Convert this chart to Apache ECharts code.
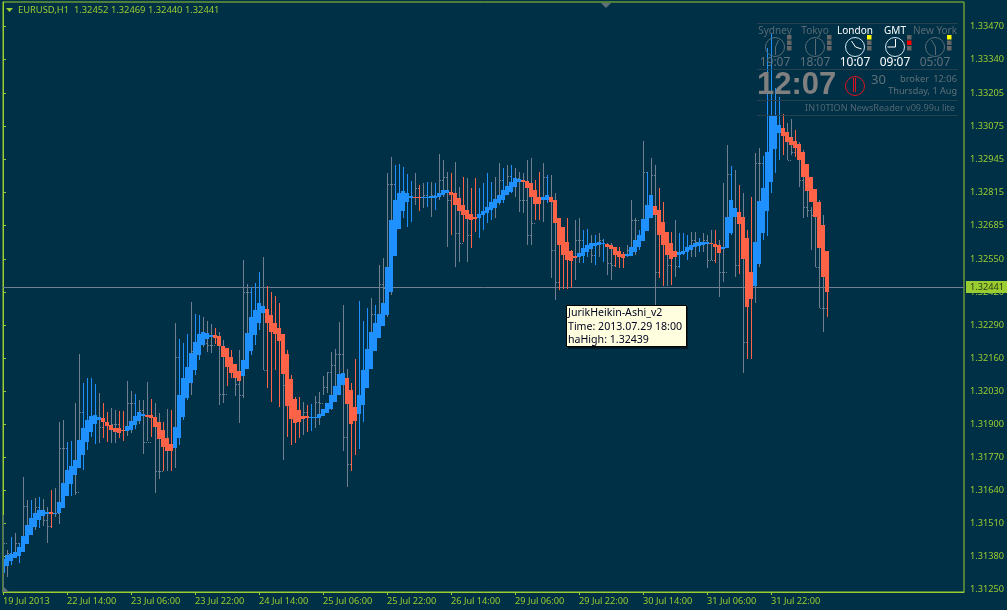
<!DOCTYPE html>
<html><head><meta charset="utf-8">
<script src="https://cdn.jsdelivr.net/npm/echarts@6/dist/echarts.min.js"></script>
<style>html,body{margin:0;padding:0;background:#003045}#c{width:1007px;height:610px}</style></head>
<body><div id="c"></div>
<script>
const bodyTop=[
1.31368,1.31384,1.31388,1.31396,1.31416,1.31459,1.31502,1.31530,1.31550,1.31562,
1.31562,1.31554,1.31554,1.31550,1.31593,1.31669,1.31720,1.31736,1.31759,1.31838,
1.31886,1.31917,1.31933,1.31937,1.31929,1.31925,1.31909,1.31897,1.31886,1.31886,
1.31878,1.31893,1.31913,1.31933,1.31949,1.31941,1.31937,1.31937,1.31929,1.31909,
1.31878,1.31846,1.31823,1.31890,1.32015,1.32083,1.32126,1.32181,1.32224,1.32256,
1.32264,1.32260,1.32252,1.32252,1.32248,1.32209,1.32201,1.32165,1.32138,1.32110,
1.32153,1.32260,1.32323,1.32351,1.32378,1.32366,1.32355,1.32331,1.32299,1.32280,
1.32256,1.32177,1.32079,1.32000,1.31957,1.31933,1.31933,1.31929,1.31929,1.31941,
1.31961,1.31984,1.32015,1.32051,1.32098,1.32102,1.32083,1.32035,1.31968,1.32015,
1.32114,1.32197,1.32264,1.32299,1.32335,1.32378,1.32520,1.32705,1.32784,1.32812,
1.32820,1.32812,1.32800,1.32797,1.32797,1.32797,1.32797,1.32800,1.32800,1.32812,
1.32824,1.32824,1.32816,1.32812,1.32793,1.32764,1.32745,1.32729,1.32717,1.32729,
1.32741,1.32756,1.32776,1.32789,1.32805,1.32824,1.32840,1.32856,1.32872,1.32868,
1.32864,1.32860,1.32852,1.32824,1.32797,1.32797,1.32805,1.32797,1.32784,1.32713,
1.32678,1.32618,1.32583,1.32563,1.32575,1.32595,1.32607,1.32614,1.32614,1.32618,
1.32614,1.32611,1.32607,1.32599,1.32583,1.32571,1.32571,1.32599,1.32626,1.32646,
1.32709,1.32764,1.32805,1.32760,1.32745,1.32697,1.32658,1.32614,1.32583,1.32579,
1.32583,1.32599,1.32607,1.32614,1.32618,1.32618,1.32618,1.32614,1.32611,1.32607,
1.32599,1.32717,1.32784,1.32752,1.32737,1.32717,1.32634,1.32500,1.32618,1.32780,
1.32832,1.32974,1.33116,1.33116,1.33080,1.33069,1.33053,1.33033,1.33017,1.33006,
1.32974,1.32927,1.32875,1.32828,1.32776,1.32685,1.32583];
const bodyBottom=[
1.31313,1.31341,1.31360,1.31372,1.31380,1.31396,1.31428,1.31463,1.31495,1.31522,
1.31538,1.31546,1.31546,1.31546,1.31550,1.31569,1.31617,1.31665,1.31700,1.31728,
1.31779,1.31830,1.31870,1.31901,1.31917,1.31909,1.31893,1.31878,1.31870,1.31866,
1.31874,1.31874,1.31878,1.31897,1.31913,1.31933,1.31929,1.31925,1.31890,1.31842,
1.31811,1.31795,1.31795,1.31807,1.31846,1.31929,1.32004,1.32063,1.32114,1.32173,
1.32213,1.32236,1.32244,1.32240,1.32209,1.32165,1.32126,1.32102,1.32083,1.32071,
1.32090,1.32118,1.32189,1.32252,1.32299,1.32339,1.32299,1.32264,1.32256,1.32228,
1.32098,1.31972,1.31921,1.31905,1.31909,1.31921,1.31925,1.31925,1.31925,1.31925,
1.31933,1.31945,1.31961,1.31988,1.32015,1.32055,1.31980,1.31901,1.31913,1.31941,
1.31976,1.32043,1.32118,1.32189,1.32240,1.32287,1.32331,1.32421,1.32563,1.32670,
1.32741,1.32776,1.32793,1.32793,1.32793,1.32793,1.32793,1.32793,1.32793,1.32797,
1.32805,1.32812,1.32805,1.32764,1.32741,1.32725,1.32709,1.32705,1.32709,1.32713,
1.32725,1.32733,1.32745,1.32752,1.32773,1.32784,1.32805,1.32816,1.32836,1.32856,
1.32856,1.32832,1.32797,1.32768,1.32768,1.32784,1.32784,1.32776,1.32694,1.32607,
1.32567,1.32547,1.32543,1.32555,1.32559,1.32563,1.32579,1.32591,1.32603,1.32607,
1.32611,1.32599,1.32591,1.32567,1.32559,1.32555,1.32563,1.32563,1.32579,1.32599,
1.32622,1.32662,1.32713,1.32725,1.32646,1.32607,1.32567,1.32551,1.32559,1.32567,
1.32571,1.32579,1.32587,1.32599,1.32603,1.32607,1.32611,1.32611,1.32599,1.32575,
1.32591,1.32595,1.32654,1.32717,1.32690,1.32551,1.32362,1.32394,1.32445,1.32532,
1.32654,1.32741,1.32856,1.32986,1.33049,1.33037,1.33013,1.33002,1.32990,1.32942,
1.32875,1.32820,1.32776,1.32717,1.32595,1.32480,1.32421];
const wickHigh=[
1.31431,1.31404,1.31455,1.31471,1.31431,1.31693,1.31601,1.31601,1.31610,1.31614,
1.31606,1.31573,1.31641,1.31649,1.31909,1.31917,1.31830,1.31834,1.31984,1.32177,
1.32063,1.32083,1.32083,1.32059,1.32023,1.31984,1.31949,1.31964,1.31957,1.31953,
1.31953,1.32071,1.32031,1.32019,1.31996,1.31996,1.32067,1.32000,1.31984,1.31945,
1.31909,1.31961,1.31957,1.32299,1.32236,1.32220,1.32256,1.32382,1.32335,1.32331,
1.32323,1.32307,1.32295,1.32280,1.32264,1.32232,1.32201,1.32193,1.32106,1.32193,
1.32547,1.32453,1.32441,1.32457,1.32500,1.32559,1.32445,1.32421,1.32405,1.32378,
1.32161,1.32193,1.32094,1.32008,1.32008,1.31988,1.31976,1.31980,1.32012,1.32027,
1.32090,1.32106,1.32185,1.32197,1.32303,1.32370,1.32118,1.32063,1.32157,1.32386,
1.32307,1.32358,1.32398,1.32370,1.32528,1.32555,1.32891,1.32954,1.32922,1.32926,
1.32915,1.32887,1.32859,1.32891,1.32844,1.32851,1.32855,1.32855,1.32851,1.32966,
1.32942,1.32895,1.32891,1.32934,1.32836,1.32875,1.32871,1.32832,1.32871,1.32832,
1.32851,1.32891,1.32855,1.32875,1.32930,1.32911,1.32922,1.32922,1.32911,1.32895,
1.32891,1.32942,1.32950,1.32863,1.32895,1.32930,1.32883,1.32883,1.32812,1.32654,
1.32678,1.32713,1.32587,1.32705,1.32713,1.32666,1.32670,1.32646,1.32646,1.32654,
1.32630,1.32614,1.32614,1.32595,1.32599,1.32579,1.32607,1.32784,1.32713,1.32666,
1.33017,1.32895,1.32950,1.32922,1.32832,1.32776,1.32658,1.32658,1.32705,1.32654,
1.32654,1.32646,1.32658,1.32658,1.32634,1.32654,1.32646,1.32666,1.32666,1.32626,
1.32851,1.33001,1.32918,1.32903,1.32844,1.32812,1.32666,1.32797,1.32970,1.32989,
1.32958,1.33384,1.33443,1.33226,1.33191,1.33123,1.33088,1.33104,1.33060,1.33013,
1.32982,1.32918,1.32756,1.32824,1.32784,1.32725,1.32567];
const wickLow=[
1.31305,1.31297,1.31345,1.31384,1.31352,1.31443,1.31463,1.31487,1.31483,1.31491,
1.31499,1.31431,1.31491,1.31534,1.31506,1.31641,1.31661,1.31617,1.31621,1.31799,
1.31720,1.31799,1.31850,1.31823,1.31826,1.31846,1.31830,1.31826,1.31826,1.31846,
1.31834,1.31854,1.31866,1.31882,1.31901,1.31783,1.31834,1.31850,1.31629,1.31684,
1.31716,1.31716,1.31716,1.31728,1.31819,1.31917,1.31996,1.32015,1.32094,1.32153,
1.32205,1.32185,1.32181,1.32217,1.31976,1.31984,1.32051,1.32083,1.32012,1.31905,
1.32004,1.32213,1.32173,1.32213,1.32272,1.32114,1.32043,1.31988,1.32114,1.31968,
1.31759,1.31850,1.31819,1.31826,1.31846,1.31858,1.31870,1.31874,1.31886,1.31897,
1.32015,1.32023,1.31957,1.32051,1.32098,1.31795,1.31653,1.31716,1.31779,1.31803,
1.31909,1.32043,1.32118,1.32189,1.32240,1.32287,1.32323,1.32409,1.32563,1.32670,
1.32713,1.32678,1.32698,1.32764,1.32741,1.32753,1.32757,1.32717,1.32745,1.32784,
1.32797,1.32599,1.32646,1.32520,1.32540,1.32618,1.32540,1.32595,1.32658,1.32634,
1.32666,1.32694,1.32705,1.32713,1.32764,1.32773,1.32816,1.32812,1.32797,1.32737,
1.32733,1.32607,1.32607,1.32705,1.32705,1.32698,1.32773,1.32476,1.32390,1.32429,
1.32433,1.32433,1.32437,1.32469,1.32536,1.32536,1.32559,1.32536,1.32528,1.32559,
1.32540,1.32488,1.32469,1.32520,1.32516,1.32516,1.32559,1.32587,1.32567,1.32587,
1.32694,1.32705,1.32784,1.32370,1.32477,1.32445,1.32445,1.32449,1.32480,1.32516,
1.32567,1.32547,1.32559,1.32559,1.32579,1.32579,1.32516,1.32547,1.32536,1.32402,
1.32461,1.32626,1.32646,1.32481,1.32492,1.32102,1.32157,1.32157,1.32378,1.32520,
1.32626,1.32642,1.32812,1.32891,1.32942,1.32962,1.32942,1.32962,1.32954,1.32836,
1.32713,1.32717,1.32587,1.32520,1.32358,1.32264,1.32323];
const closeTick=[
1.31431,1.31393,null,1.31431,null,1.31578,1.31502,null,1.31573,null,
1.31522,1.31499,null,1.31550,1.31807,1.31807,null,null,1.31633,1.31949,
null,null,null,null,1.31890,null,null,1.31901,1.31901,null,
null,1.31984,1.31984,null,1.31957,1.31830,1.31830,null,1.31716,1.31716,
null,1.31815,null,1.32165,null,null,null,1.32189,null,null,
1.32220,1.32213,1.32213,null,1.32019,1.32019,null,null,1.32059,1.32015,
1.32421,1.32421,null,null,null,1.32114,null,null,null,null,
1.32055,null,null,null,null,1.31949,null,null,1.31988,1.31984,
1.32047,1.32106,1.32134,1.32177,1.32177,1.31850,1.31744,null,null,null,
null,null,1.32335,null,1.32453,1.32437,1.32847,1.32847,null,null,
null,null,null,1.32832,null,1.32805,null,1.32805,null,1.32863,
1.32875,1.32784,null,1.32654,1.32614,null,1.32646,null,null,null,
null,null,null,1.32784,1.32863,null,1.32879,null,1.32871,1.32784,
1.32784,1.32646,1.32694,null,null,1.32875,null,1.32587,1.32461,null,
null,null,null,1.32626,1.32626,null,null,1.32567,null,1.32626,
null,1.32536,1.32528,null,null,null,1.32587,1.32705,1.32705,null,
1.32895,null,1.32883,1.32500,null,null,1.32528,null,1.32524,null,
null,null,1.32626,1.32618,null,1.32626,1.32547,1.32547,null,1.32500,
1.32500,1.32887,null,1.32528,null,1.32224,null,null,1.32930,1.32930,
null,null,null,null,null,null,1.32942,1.32974,null,1.32863,
1.32757,1.32745,1.32725,1.32520,1.32358,1.32358,null];
// inclusive runs of bar indices where the smoothed candle is bearish
const bearishRuns=[[12,12],[25,30],[36,42],[53,59],[66,76],[86,88],[103,104],[112,118],[130,134],[137,143],[151,155],[163,168],[177,179],[184,187],[195,206]];
const xTickBars=[0,16,32,48,64,80,96,112,128,144,160,176,192];
const xTickLabels=['19 Jul 2013','22 Jul 14:00','23 Jul 06:00','23 Jul 22:00','24 Jul 14:00','25 Jul 06:00','25 Jul 22:00','26 Jul 14:00','29 Jul 06:00','29 Jul 22:00','30 Jul 14:00','31 Jul 06:00','31 Jul 22:00'];
const yTicks=[1.33470,1.33340,1.33205,1.33075,1.32945,1.32815,1.32685,1.32550,1.32420,1.32290,1.32160,1.32030,1.31900,1.31770,1.31640,1.31510,1.31380,1.31250];
const lastPrice=1.32441;
const headerText='EURUSD,H1  1.32452 1.32469 1.32440 1.32441';
const tooltipLines=['JurikHeikin-Ashi_v2','Time: 2013.07.29 18:00','haHigh: 1.32439'];

const GREEN='#9ACD32',BLUE='#1E90FF',RED='#FF6347',GRAY='#708090',BG='#003045',FONT='"Noto Sans",sans-serif';
const isBear=i=>bearishRuns.some(r=>i>=r[0]&&i<=r[1]);
const rows=bodyTop.map((t,i)=>[i,t,bodyBottom[i],wickHigh[i],wickLow[i],closeTick[i]==null?NaN:closeTick[i]]);

function renderBar(p,api){
  const i=api.value(0);
  const cx=Math.floor(api.coord([i,1.32])[0]);
  const y=v=>Math.round(api.coord([i,v])[1]);
  const top=y(api.value(1)),bot=y(api.value(2)),hi=y(api.value(3)),lo=y(api.value(4));
  const tick=api.value(5);
  const col=isBear(i)?RED:BLUE;
  const kids=[];
  const gray=!isNaN(tick);
  kids.push({type:'line',shape:{x1:cx+.5,y1:hi,x2:cx+.5,y2:lo},style:{stroke:gray?GRAY:col,lineWidth:1},z2:1});
  if(gray){const ty=y(tick)+.5;kids.push({type:'line',shape:{x1:cx+1,y1:ty,x2:cx+4,y2:ty},style:{stroke:GRAY,lineWidth:1,lineDash:[1,1]},z2:1});}
  kids.push({type:'rect',shape:{x:cx-2,y:top,width:4,height:Math.max(bot-top,1)},style:{fill:col},z2:2});
  return {type:'group',children:kids};
}
function renderLast(p,api){
  const v=api.value(0);
  const py=Math.floor(api.coord([0,v])[1])+.5;
  const c=p.coordSys;
  return {type:'group',children:[
    {type:'line',shape:{x1:c.x,y1:py,x2:c.x+c.width,y2:py},style:{stroke:GRAY,lineWidth:1}},
    {type:'rect',shape:{x:966,y:py-6.5,width:41,height:12},style:{fill:GREEN}},
    {type:'text',x:970,y:py,style:{text:v.toFixed(5),fill:'#2a3a10',font:'9.2px '+FONT,verticalAlign:'middle'}}
  ]};
}

// on-chart clock panel and overlays
const g=[];
const txt=(x,y,s,fill,size,o)=>g.push({type:'text',x,y,z:50,style:{text:s,fill,font:(o&&o.bold?'bold ':'')+size+'px '+((o&&o.fam)||FONT),align:(o&&o.align)||'left',verticalAlign:'middle'}});
const seg=(a,b,c,d,stroke,w)=>g.push({type:'line',z:50,shape:{x1:a,y1:b,x2:c,y2:d},style:{stroke,lineWidth:w||1}});
[23.5,69.5,100.5,115.5].forEach(y=>seg(757,y,958,y,'#27414e'));
const DIM='#586a74';
const cities=[['Sydney',775,'19:07',DIM],['Tokyo',815,'18:07',DIM],['London',855,'10:07','#fff'],['GMT',895,'09:07','#fff'],['New York',935,'05:07',DIM]];
cities.forEach(c=>{
  const [n,x,t,col]=c;
  txt(x,31,n,col,10,{align:'center'});
  g.push({type:'circle',z:50,shape:{cx:x,cy:47,r:9.5},style:{fill:'none',stroke:col==='#fff'?'#cfe6f2':'#5b6c75',lineWidth:1}});
  txt(x,63,t,col==='#fff'?'#fff':'#5f7079',12,{align:'center'});
  [35,40.5,46].forEach((sy,k)=>{
    const lit=(n==='London'&&k===0)||(n==='New York'&&k===0)||(n==='GMT'&&k===1);
    g.push({type:'rect',z:50,shape:{x:x+12,y:sy,width:4.5,height:4.5},style:{fill:lit?(n==='GMT'?'#f00':'#ff0'):'#666'}});
  });
});
const hand=[[775,47,778,40],[775,47,775,55],[815,47,815,39],[815,47,815,55],[855,47,851,41],[855,47,861,49],[895,47,895,39],[895,47,887,47],[935,47,931,40],[935,47,935,55]];
hand.forEach((h,k)=>seg(h[0]+.5,h[1],h[2]+.5,h[3],(k>=4&&k<8)?'#fff':'#5b6c75'));
txt(757,85,'12:07','#808080',31,{bold:true,fam:'"Liberation Sans",sans-serif'});
g.push({type:'circle',z:50,shape:{cx:855,cy:86,r:9.5},style:{fill:'none',stroke:'#e01020',lineWidth:1}});
seg(855.5,78,855.5,92,'#e01020');seg(853.5,78,853.5,92,'#e01020');
txt(871,80,'30','#5f7079',13);
txt(900,79,'broker','#5f7079',9.3);
txt(957,79,'12:06','#5f7079',9.3,{align:'right'});
txt(957,91,'Thursday, 1 Aug','#5f7079',9.1,{align:'right'});
txt(955,108,'IN10TION NewsReader v09.99u lite','#4f6773',9.1,{align:'right'});
// header
g.push({type:'polygon',z:50,shape:{points:[[6,8],[13,8],[9.5,12]]},style:{fill:GREEN}});
txt(18,10,headerText,GREEN,9.35);
// chart-shift markers
g.push({type:'polygon',z:50,shape:{points:[[601,3],[611,3],[606,8]]},style:{fill:'#607078'}});
g.push({type:'polygon',z:50,shape:{points:[[3,586],[3,592],[9,592]]},style:{fill:'#607078'}});
seg(3.5,515,3.5,587,'#5a7070');
// data-window tooltip
g.push({type:'rect',z:60,shape:{x:568,y:307,width:120,height:42},style:{fill:'#001a26'}});
g.push({type:'rect',z:61,shape:{x:566.5,y:305.5,width:120,height:41},style:{fill:'#FFFFE0',stroke:'#000',lineWidth:1}});
tooltipLines.forEach((s,k)=>g.push({type:'text',x:568,y:313+13.5*k,z:62,style:{text:s,fill:'#000020',font:'10.6px '+FONT,verticalAlign:'middle'}}));

const chart=echarts.init(document.getElementById('c'),null,{renderer:'canvas'});
chart.setOption({
  animation:false,backgroundColor:BG,
  grid:{left:3,right:43,top:2,bottom:18,show:true,borderColor:GREEN,borderWidth:1,backgroundColor:'transparent'},
  xAxis:{type:'value',min:0,max:240.25,splitLine:{show:false},
    axisLine:{show:true,lineStyle:{color:GREEN}},
    axisTick:{show:true,length:3,inside:false,lineStyle:{color:GREEN},customValues:xTickBars},
    axisLabel:{color:GREEN,fontFamily:FONT,fontSize:9.2,margin:5,align:'left',showMinLabel:true,showMaxLabel:true,hideOverlap:false,
      customValues:xTickBars,formatter:v=>xTickLabels[xTickBars.indexOf(v)]||''}},
  yAxis:{type:'value',position:'right',min:1.31239,max:1.33565,scale:true,splitLine:{show:false},
    axisLine:{show:true,lineStyle:{color:GREEN}},
    axisTick:{show:true,length:3,lineStyle:{color:GREEN},customValues:yTicks},
    axisLabel:{color:GREEN,fontFamily:FONT,fontSize:9.2,margin:6,hideOverlap:false,customValues:yTicks,formatter:v=>v.toFixed(5)}},
  series:[
    {type:'custom',name:'last',clip:false,silent:true,z:1,data:[[lastPrice]],encode:{y:0},renderItem:renderLast},
    {type:'custom',name:'bars',clip:true,data:rows,encode:{x:0,y:[1,2,3,4]},renderItem:renderBar,silent:true,z:3}
  ],
  graphic:{elements:g}
});
</script></body></html>
